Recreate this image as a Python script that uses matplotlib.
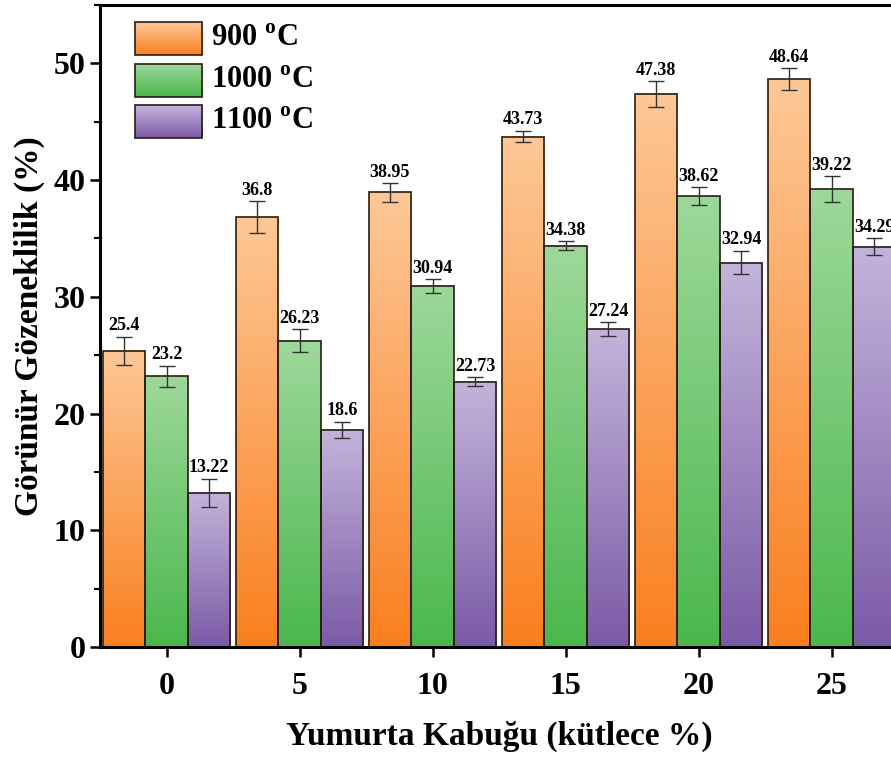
import numpy as np
import matplotlib
matplotlib.use("Agg")
from matplotlib import pyplot as plt
from matplotlib.colors import LinearSegmentedColormap
from matplotlib.ticker import MultipleLocator

plt.rcParams['font.family'] = ['Liberation Serif', 'DejaVu Serif']
plt.rcParams['font.weight'] = 'bold'
plt.rcParams['mathtext.fontset'] = 'custom'
plt.rcParams['mathtext.rm'] = 'Liberation Serif:bold'
plt.rcParams['mathtext.bf'] = 'Liberation Serif:bold'

# data
shell = [0, 5, 10, 15, 20, 25]
labels = ["900 $^{\\mathrm{o}}$C", "1000 $^{\\mathrm{o}}$C", "1100 $^{\\mathrm{o}}$C"]
t900 = [25.4, 36.8, 38.95, 43.73, 47.38, 48.64]
t1000 = [23.2, 26.23, 30.94, 34.38, 38.62, 39.22]
t1100 = [13.22, 18.6, 22.73, 27.24, 32.94, 34.29]
err900 = [1.2, 1.37, 0.81, 0.5, 1.1, 0.93]
err1000 = [0.89, 1.0, 0.6, 0.4, 0.78, 1.1]
err1100 = [1.2, 0.71, 0.4, 0.57, 1.0, 0.71]

series = [t900, t1000, t1100]
errors = [err900, err1000, err1100]
# (top light colour, bottom saturated colour)
grads = [("#fdc897", "#fa7f1f"), ("#9dd89b", "#4bb74c"), ("#c3b4db", "#7b5aa6")]

W, H = 891, 758
fig = plt.figure(figsize=(W / 100, H / 100), dpi=100)
ax = fig.add_axes([100 / W, 1 - 647 / H, 798 / W, 642 / H])

bw = 1.6
offsets = [-bw, 0, bw]
grad = np.linspace(1, 0, 256).reshape(-1, 1)

for vals, errs, (c_top, c_bot), off in zip(series, errors, grads, offsets):
    cmap = LinearSegmentedColormap.from_list("g", [c_bot, c_top])
    for x, v, e in zip(shell, vals, errs):
        xc = x + off
        ax.imshow(grad, cmap=cmap, aspect='auto', extent=[xc - bw / 2, xc + bw / 2, 0, v],
                  zorder=1, interpolation='bilinear', vmin=0, vmax=1)
        ax.bar(xc, v, width=bw, facecolor='none', edgecolor='#2a1d12', linewidth=1.2, zorder=2)
        ax.errorbar(xc, v, yerr=e, fmt='none', ecolor='#333333', elinewidth=1.0,
                    capsize=6, capthick=1.0, zorder=3)
        ax.text(xc, v + e + 0.2, f"{v:g}", ha='center', va='bottom', fontsize=13,
                fontweight='bold', zorder=4)

ax.set_xlim(-2.5, 27.5)
ax.set_ylim(0, 55)
ax.set_xticks(shell)
ax.yaxis.set_major_locator(MultipleLocator(10))
ax.yaxis.set_minor_locator(MultipleLocator(5))
ax.tick_params(axis='both', which='major', labelsize=23, width=1.8, length=7, direction='out')
ax.tick_params(axis='y', which='minor', width=1.5, length=4, direction='out')
ax.tick_params(axis='x', pad=11)
for s in ax.spines.values():
    s.set_linewidth(2.2)
for lab in ax.get_xticklabels() + ax.get_yticklabels():
    lab.set_fontweight('bold')

ax.set_xlabel("Yumurta Kabuğu (kütlece %)", fontsize=24, fontweight='bold', labelpad=14)
ax.set_ylabel("Görünür Gözeneklilik (%)", fontsize=24, fontweight='bold', labelpad=6)

# legend drawn by hand so the swatches can carry the gradient
rows = [0.948, 0.882, 0.818]
sw_h = 0.0514
for (c_top, c_bot), lab, yc in zip(grads, labels, rows):
    cmap = LinearSegmentedColormap.from_list("g", [c_bot, c_top])
    ax.imshow(grad, cmap=cmap, aspect='auto', transform=ax.transAxes,
              extent=[0.044, 0.128, yc - sw_h / 2, yc + sw_h / 2], zorder=5,
              interpolation='bilinear', vmin=0, vmax=1)
    ax.add_patch(plt.Rectangle((0.044, yc - sw_h / 2), 0.084, sw_h, transform=ax.transAxes,
                               facecolor='none', edgecolor='#2a1d12', linewidth=1.2, zorder=6))
    ax.text(0.139, yc, lab, transform=ax.transAxes, ha='left', va='center', fontsize=22,
            fontweight='bold', zorder=6)

ax.set_xlim(-2.5, 27.5)
ax.set_ylim(0, 55)

fig.savefig("out.png", dpi=100)
